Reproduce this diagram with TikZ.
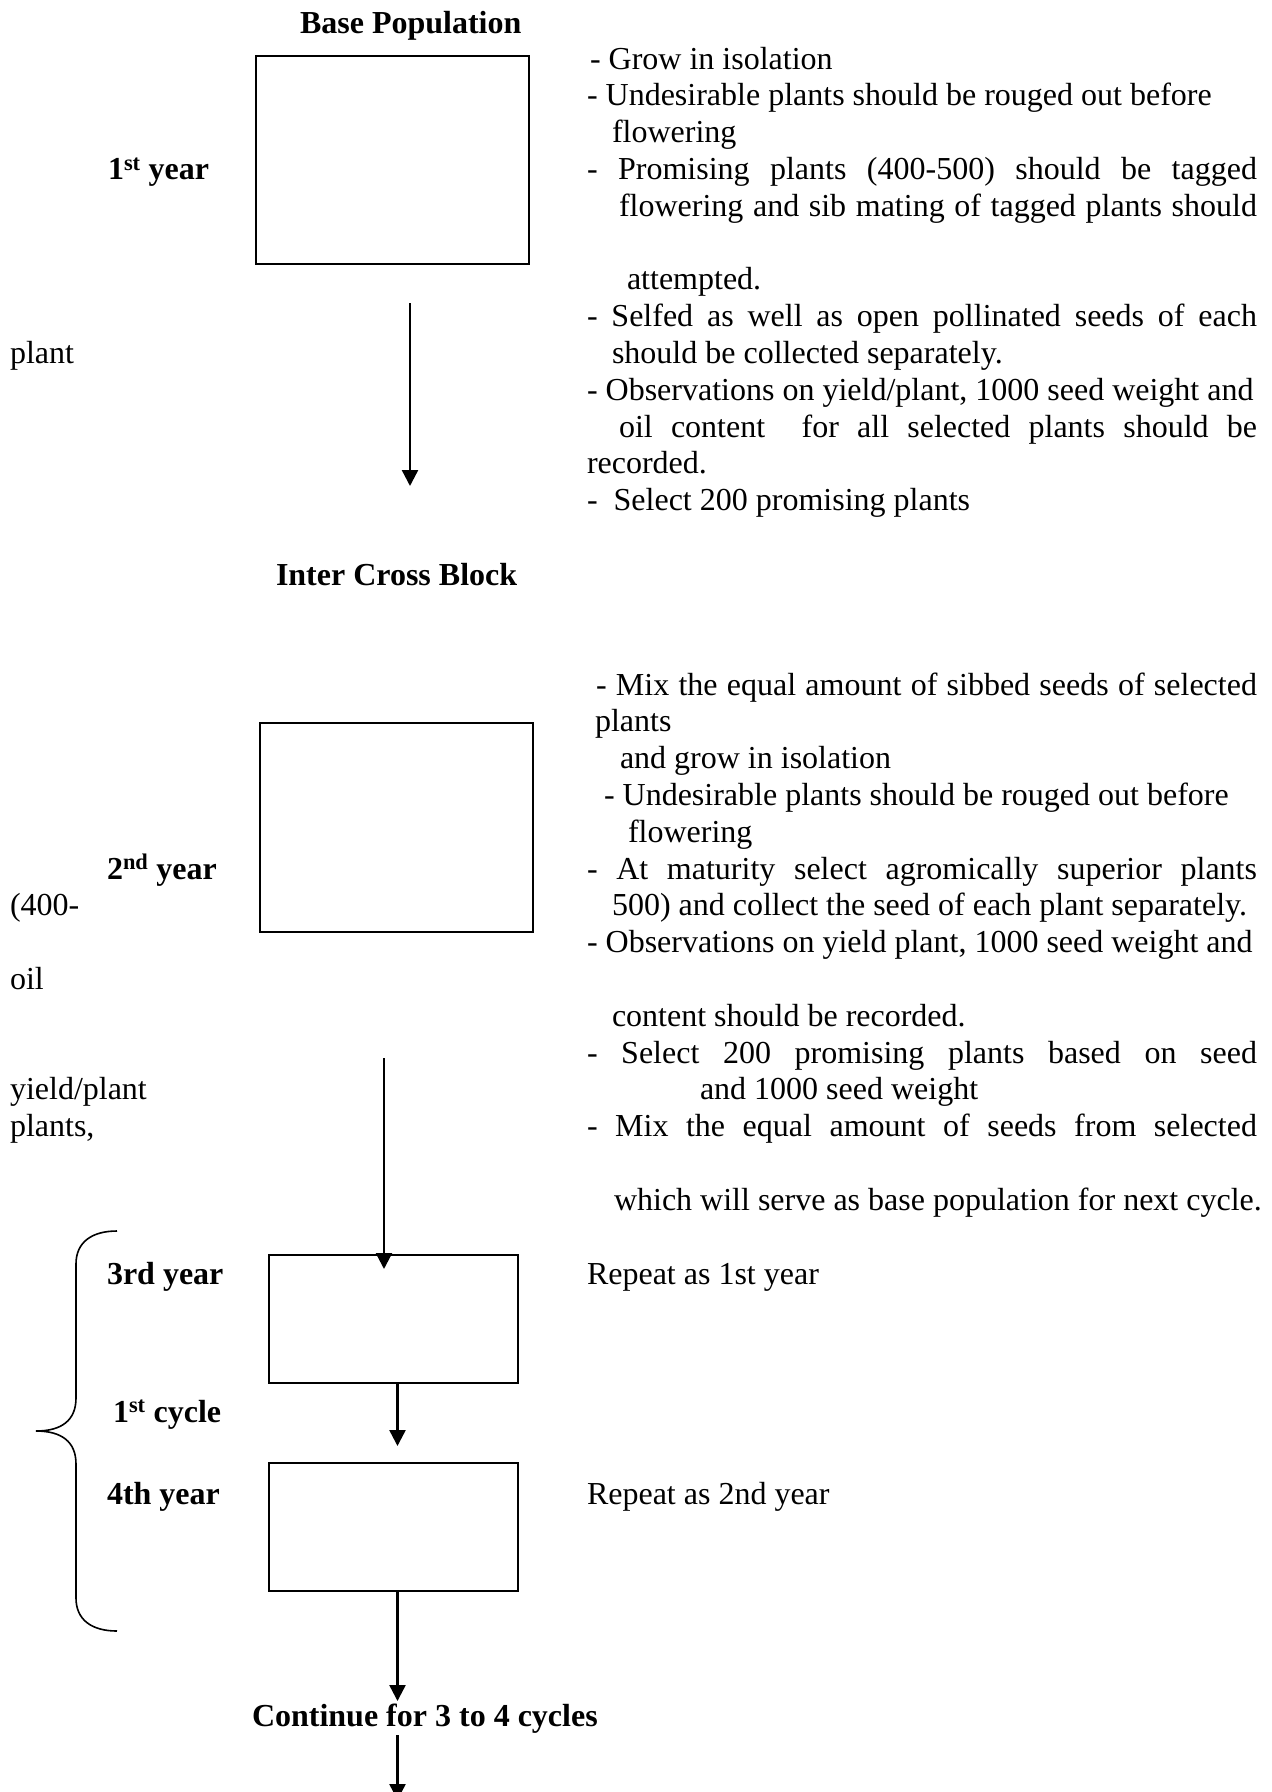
\documentclass[tikz,border=0pt]{standalone}
\usepackage{fontspec}
\setmainfont{Liberation Serif}
\usetikzlibrary{arrows.meta}
\newcommand\jline[2]{\makebox[#1pt][s]{#2}}
\begin{document}
\begin{tikzpicture}[x=1pt,y=-1pt,
  every node/.style={font=\fontsize{32}{36.8}\selectfont},
  txt/.style={anchor=base west, inner sep=0pt, outer sep=0pt},
  hd/.style={txt, font=\fontsize{32}{36.8}\selectfont\bfseries},
  yrbox/.style={draw, line width=1.8pt, anchor=north west, inner sep=0pt, outer sep=0pt},
  arr/.style={line width=2.4pt, -{Triangle[width=16pt,length=16pt]}},
  brace/.style={line width=1.6pt}]
\useasboundingbox (0,0) rectangle (1272,1792);

% ---------- headings ----------
\node[hd] (hbase) at (300,33) {Base Population};
\node[hd] (hinter) at (276,585) {Inter Cross Block};
\node[hd] (hcont) at (252,1726) {Continue for 3 to 4 cycles};

% ---------- boxes ----------
\node[yrbox, minimum width=273pt, minimum height=208pt] (b1) at (256,56) {};
\node[yrbox, minimum width=273pt, minimum height=209pt] (b2) at (260,723) {};
\node[yrbox, minimum width=249pt, minimum height=128pt] (b3) at (269,1255) {};
\node[yrbox, minimum width=249pt, minimum height=128pt] (b4) at (269,1463) {};

% ---------- left labels ----------
\node[hd] (y1) at (108,179.4) {1\textsuperscript{st} year};
\node[txt] (lplant) at (10,363.4) {plant};
\node[hd] (y2) at (107,879) {2\textsuperscript{nd} year};
\node[txt] (l400) at (10,915.8) {(400-};
\node[txt] (loil) at (10,989.4) {oil};
\node[txt] (lyield) at (10,1099.8) {yield/plant};
\node[txt] (lplants) at (10,1136.6) {plants,};
\node[hd] (y3) at (107,1284) {3rd year};
\node[hd] (c1) at (113,1422) {1\textsuperscript{st} cycle};
\node[hd] (y4) at (107,1504) {4th year};

% ---------- right text, year 1 ----------
\node[txt] (r1) at (590,69) {- Grow in isolation};
\node[txt] (r2) at (587,105.8) {- Undesirable plants should be rouged out before};
\node[txt] (r3) at (612,142.6) {flowering};
\node[txt] (r4) at (587,179.4) {\jline{670}{- Promising plants (400-500) should be tagged}};
\node[txt] (r5) at (619,216.2) {\jline{638}{flowering and sib mating of tagged plants should}};
\node[txt] (r6) at (627,289.8) {attempted.};
\node[txt] (r7) at (587,326.6) {\jline{670}{- Selfed as well as open pollinated seeds of each}};
\node[txt] (r8) at (612,363.4) {should be collected separately.};
\node[txt] (r9) at (587,400.2) {- Observations on yield/plant, 1000 seed weight and};
\node[txt] (r10) at (619,437) {\jline{638}{oil content\ \ for all selected plants should be}};
\node[txt] (r11) at (587,473.8) {recorded.};
\node[txt] (r12) at (587,510.6) {-\ \ Select 200 promising plants};

% ---------- right text, year 2 ----------
\node[txt] (s0) at (596,695) {\jline{661}{- Mix the equal amount of sibbed seeds of selected}};
\node[txt] (s1) at (595,731.8) {plants};
\node[txt] (s2) at (620,768.6) {and grow in isolation};
\node[txt] (s3) at (604,805.4) {- Undesirable plants should be rouged out before};
\node[txt] (s4) at (628,842.2) {flowering};
\node[txt] (s5) at (587,879) {\jline{670}{- At maturity select agromically superior plants}};
\node[txt] (s6) at (612,915.8) {500) and collect the seed of each plant separately.};
\node[txt] (s7) at (587,952.6) {- Observations on yield plant, 1000 seed weight and};
\node[txt] (s9) at (612,1026.2) {content should be recorded.};
\node[txt] (s10) at (587,1063) {\jline{670}{- Select 200 promising plants based on seed}};
\node[txt] (s11) at (700,1099.8) {and 1000 seed weight};
\node[txt] (s12) at (587,1136.6) {\jline{670}{- Mix the equal amount of seeds from selected}};
\node[txt] (s14) at (614,1210.2) {which will serve as base population for next cycle.};

% ---------- right text, years 3 and 4 ----------
\node[txt] (rep1) at (587,1284) {Repeat as 1st year};
\node[txt] (rep2) at (587,1504) {Repeat as 2nd year};

% ---------- arrows ----------
\coordinate (a1s) at (410,303);
\coordinate (a1e) at (410,486);
\coordinate (a2s) at (384,1058);
\coordinate (a2e) at (384,1269);
\coordinate (a3e) at (397.5,1446);
\coordinate (a4e) at (397.5,1701);
\coordinate (a5s) at (397.5,1735);
\coordinate (a5e) at (397.5,1800);
\draw[arr] (a1s) -- (a1e);
\draw[arr] (a2s) -- (a2e);
\draw[arr] ([xshift=4pt]b3.south) -- (a3e);
\draw[arr] ([xshift=4pt]b4.south) -- (a4e);
\draw[arr] (a5s) -- (a5e);

% ---------- brace ----------
\draw[brace] (117,1231) .. controls (92,1231) and (76,1242) .. (76,1264)
  -- (76,1398) .. controls (76,1420) and (62,1431) .. (36,1431)
  .. controls (62,1431) and (76,1442) .. (76,1464)
  -- (76,1598) .. controls (76,1620) and (92,1631) .. (117,1631);
\end{tikzpicture}
\end{document}
